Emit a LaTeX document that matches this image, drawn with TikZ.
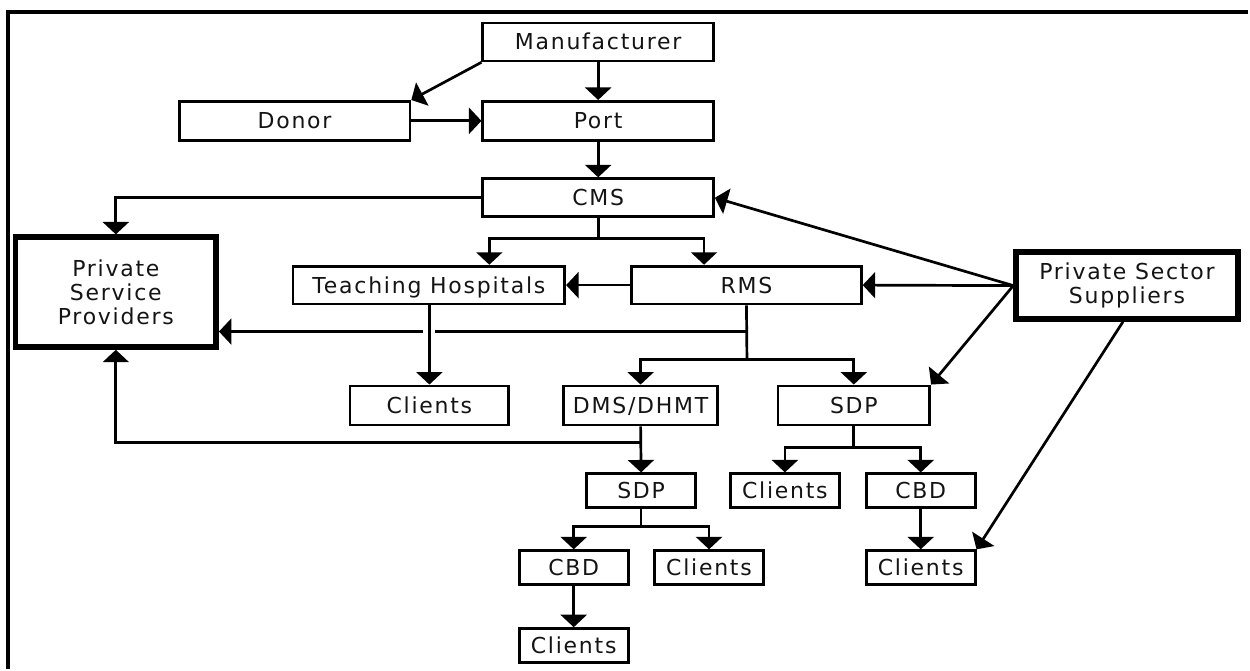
\documentclass[tikz,border=0pt]{standalone}
\usepackage{fontspec}
\setmainfont{DejaVu Sans}[LetterSpace=8]
\usetikzlibrary{arrows.meta,calc}
\begin{document}
\begin{tikzpicture}[x=1pt,y=-1pt,
  lbl/.style={font=\fontsize{22}{24}\selectfont,text=black!92},
  box/.style={lbl,draw=black,line width=2.8pt,minimum height=38pt,inner sep=0pt,text height=16pt,text depth=0pt},
  sbox/.style={box,minimum width=109pt,minimum height=34pt},
  thickbox/.style={lbl,draw=black,line width=5.5pt,inner sep=0pt,align=center},
  conn/.style={line width=2.7pt},
  arr/.style={conn,-{Triangle[width=26pt,length=12.5pt]}}
]
\fill[white] (0,0) rectangle (1250,670);
\draw[line width=3.5pt] (8,670) -- (8,12) -- (1250,12);

\node[box,minimum width=231pt] (man) at (599,42) {Manufacturer};
\node[box,minimum width=231pt,minimum height=39pt] (port) at (599,121) {Port};
\node[box,minimum width=231pt] (cms) at (599,198) {CMS};
\node[box,minimum width=231pt,minimum height=39pt] (donor) at (295,121) {Donor};
\node[thickbox,minimum width=201pt,minimum height=110pt] (psp) at (116,292.5) {Private\\Service\\Providers};
\node[box,minimum width=272pt] (th) at (429.5,285.5) {Teaching Hospitals};
\node[box,minimum width=230pt] (rms) at (747.5,285.5) {RMS};
\node[thickbox,minimum width=222pt,minimum height=67pt] (pss) at (1128.5,286) {Private Sector\\Suppliers};
\node[box,minimum width=159pt,minimum height=39pt] (cl1) at (430,406) {Clients};
\node[box,minimum width=154pt,minimum height=39pt] (dms) at (641.5,406) {DMS/DHMT};
\node[box,minimum width=152pt,minimum height=39pt] (sdp1) at (855,406) {SDP};
\node[sbox] (sdp2) at (642,491.5) {SDP};
\node[sbox] (cl2) at (786,491.5) {Clients};
\node[sbox] (cbd1) at (922,491.5) {CBD};
\node[sbox] (cbd2) at (574.5,568.5) {CBD};
\node[sbox] (cl3) at (710,568.5) {Clients};
\node[sbox] (cl5) at (922,568.5) {Clients};
\node[sbox] (cl4) at (574.5,646.5) {Clients};

\coordinate (j1) at (599,239);
\coordinate (j2) at (748,332);
\coordinate (j3) at (748,360);
\coordinate (j4) at (642,443);
\coordinate (j5) at (642,527);
\coordinate (j6) at (855,448);

\draw[arr] (man) -- (port);
\draw[arr] (man.south west) -- (donor.north east);
\draw[arr] (donor) -- (port);
\draw[arr] (port) -- (cms);
\draw[arr] (cms.west) -| (psp.north);
\draw[conn] (cms.south) -- (j1);
\draw[arr] (j1) -| ($(th.north)+(60.5,0)$);
\draw[arr] (j1) -| ($(rms.north)+(-42.5,0)$);
\draw[arr] (rms) -- (th);
\draw[arr] (pss.west) -- (cms.east);
\draw[arr] (pss.west) -- (rms.east);
\draw[arr] (pss.west) -- (sdp1.north east);
\draw[arr] ($(pss.south)+(-4,0)$) -- (cl5.north east);

\draw[conn] (rms.south) -- (j3);
\draw[conn] (j2) -- ($(cl1.north |- j2)+(6,0)$);
\draw[arr] ($(cl1.north |- j2)+(-6,0)$) -- (psp.east |- j2);
\draw[arr] (th.south -| cl1.north) -- (cl1.north);
\draw[arr] (j3) -| (dms.north);
\draw[arr] (j3) -| (sdp1.north);
\draw[arr] (dms.south) -- (sdp2.north);
\draw[arr] (j4) -| (psp.south);
\draw[conn] (sdp2.south) -- (j5);
\draw[arr] (j5) -| (cbd2.north);
\draw[arr] (j5) -| (cl3.north);
\draw[arr] (cbd2) -- (cl4);
\draw[conn] (sdp1.south) -- (j6);
\draw[arr] (j6) -| (cl2.north);
\draw[arr] (j6) -| (cbd1.north);
\draw[arr] (cbd1) -- (cl5);
\end{tikzpicture}
\end{document}
